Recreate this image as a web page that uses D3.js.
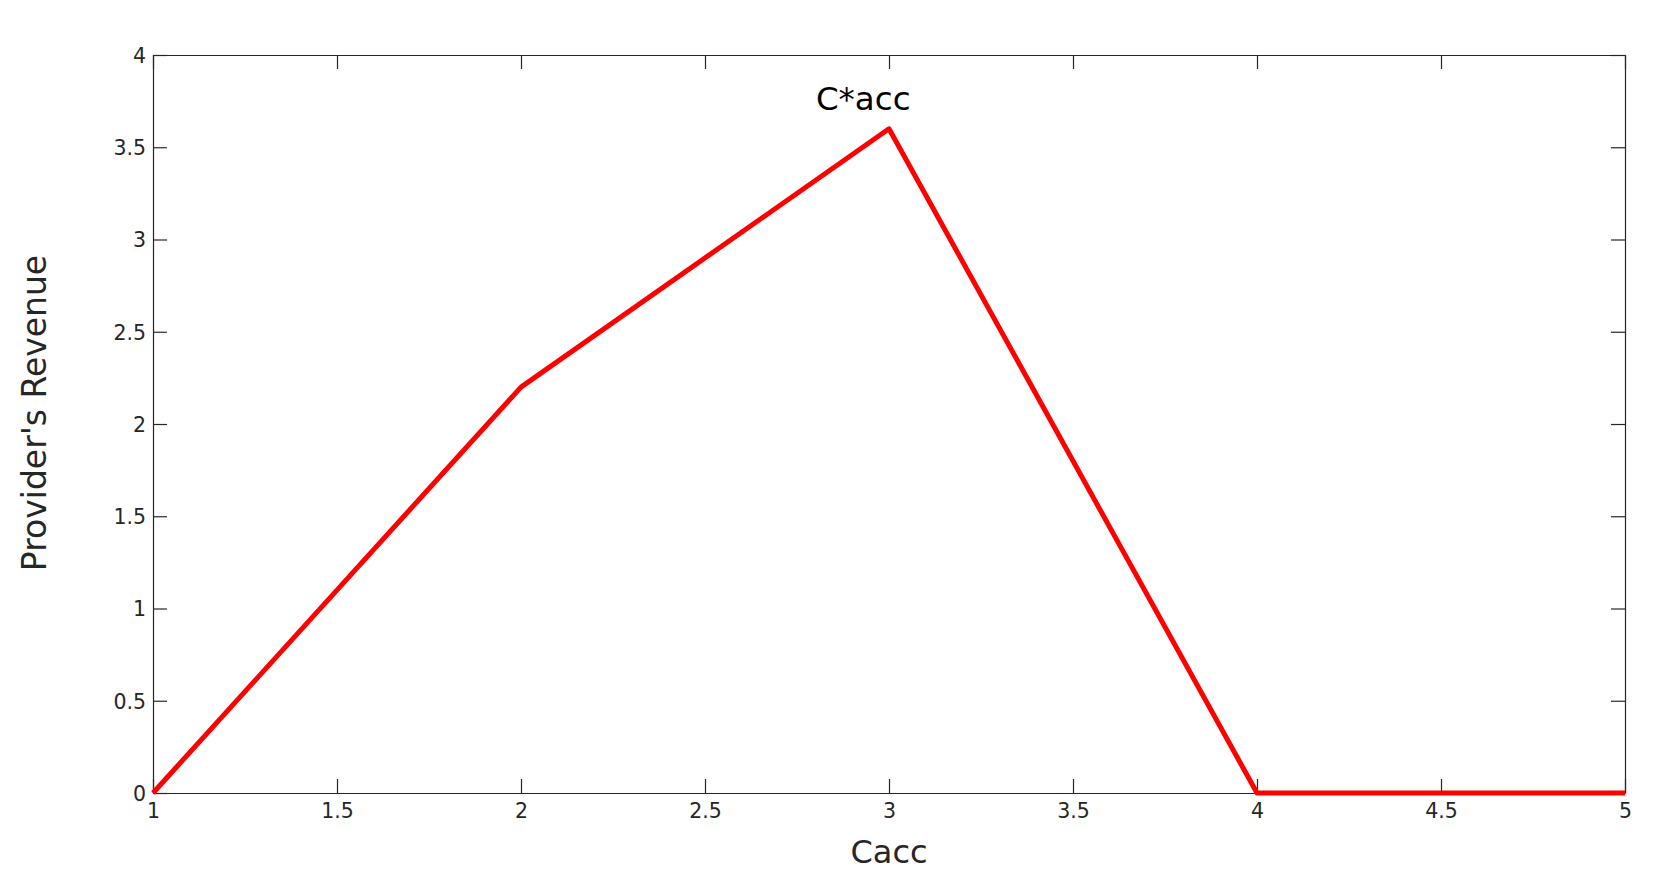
<!DOCTYPE html>
<html>
<head>
<meta charset="utf-8">
<script src="https://cdn.jsdelivr.net/npm/d3@7"></script>
<style>
  html, body { margin: 0; padding: 0; background: #fff; }
  svg { display: block; font-family: "DejaVu Sans", sans-serif; }
</style>
</head>
<body>
<svg id="chart" width="1668" height="880"></svg>
<script>
const xValues = [1, 2, 3, 4, 5];
const revenue = [0, 2.2, 3.6, 0, 0];
const xTicks = [1, 1.5, 2, 2.5, 3, 3.5, 4, 4.5, 5];
const yTicks = [0, 0.5, 1, 1.5, 2, 2.5, 3, 3.5, 4];
const annotation = { text: "C*acc", x: 2.93, y: 3.70 };
const xLabel = "Cacc";
const yLabel = "Provider's Revenue";

const svg = d3.select("#chart");
const m = { left: 153, right: 1625, top: 55, bottom: 793 };
const x = d3.scaleLinear().domain([1, 5]).range([m.left, m.right]);
const y = d3.scaleLinear().domain([0, 4]).range([m.bottom, m.top]);
const axisColor = "#262626";
const tickLen = 14;

function fmt(v) { return String(v); }

const gB = svg.append("g").attr("transform", `translate(0,${m.bottom})`)
  .call(d3.axisBottom(x).tickValues(xTicks).tickFormat(fmt).tickSizeInner(-tickLen).tickSizeOuter(0).tickPadding(8));
const gT = svg.append("g").attr("transform", `translate(0,${m.top})`)
  .call(d3.axisTop(x).tickValues(xTicks).tickFormat("").tickSizeInner(-tickLen).tickSizeOuter(0));
const gL = svg.append("g").attr("transform", `translate(${m.left},0)`)
  .call(d3.axisLeft(y).tickValues(yTicks).tickFormat(fmt).tickSizeInner(-tickLen).tickSizeOuter(0).tickPadding(7));
const gR = svg.append("g").attr("transform", `translate(${m.right},0)`)
  .call(d3.axisRight(y).tickValues(yTicks).tickFormat("").tickSizeInner(-tickLen).tickSizeOuter(0));

[gB, gT, gL, gR].forEach(g => {
  g.selectAll("path.domain").attr("stroke", axisColor).attr("stroke-width", 1.2);
  g.selectAll(".tick line").attr("stroke", axisColor).attr("stroke-width", 1.2);
  g.selectAll(".tick text").attr("fill", axisColor).style("font-size", "20.5px").style("font-family", "DejaVu Sans, sans-serif");
});
gB.selectAll(".tick text").attr("y", 25).attr("dy", 0);
gL.selectAll(".tick text").attr("x", -7).attr("dy", "0.36em");

const line = d3.line().x((d, i) => x(xValues[i])).y(d => y(d));
svg.append("path").datum(revenue)
  .attr("d", line)
  .attr("fill", "none")
  .attr("stroke", "#ff0000")
  .attr("stroke-width", 5)
  .attr("stroke-linejoin", "round");

svg.append("text")
  .attr("x", x(annotation.x)).attr("y", y(annotation.y))
  .attr("text-anchor", "middle")
  .attr("fill", "#000")
  .style("font-size", "32.5px")
  .text(annotation.text);

svg.append("text")
  .attr("x", x(3)).attr("y", 863)
  .attr("text-anchor", "middle")
  .attr("fill", axisColor)
  .style("font-size", "32px")
  .text(xLabel);

svg.append("text")
  .attr("transform", `translate(46,${(m.top + m.bottom) / 2 - 11}) rotate(-90)`)
  .attr("text-anchor", "middle")
  .attr("fill", axisColor)
  .style("font-size", "33px")
  .text(yLabel);
</script>
</body>
</html>
